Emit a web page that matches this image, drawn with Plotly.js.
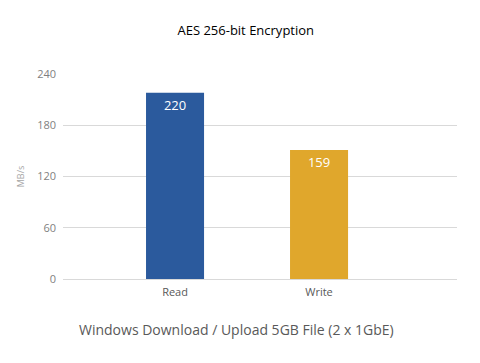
<!DOCTYPE html>
<html>
<head>
<meta charset="utf-8">
<script src="https://cdn.plot.ly/plotly-3.0.1.min.js"></script>
<style>html,body{margin:0;padding:0;background:#fff;}#chart{width:480px;height:363px;}</style>
</head>
<body>
<div id="chart"></div>
<script>
const categories = ["Read", "Write"];
const values = [218, 151];
const dataLabels = ["220", "159"];
const barColors = ["#2B5A9D", "#E0A72C"];
const yTicks = [0, 60, 120, 180, 240];
const xTitle = "Windows Download / Upload 5GB File (2 x 1GbE)";

const trace = {
  type: "bar",
  x: categories,
  y: values,
  text: dataLabels,
  textposition: "inside",
  insidetextanchor: "end",
  textfont: {family: "Open Sans, Liberation Sans, sans-serif", size: 13, color: "#ffffff"},
  marker: {color: barColors},
  width: 0.403,
  hoverinfo: "none",
  cliponaxis: false
};

const layout = {
  width: 480, height: 363,
  margin: {l: 63, r: 23, t: 73.5, b: 84},
  paper_bgcolor: "#ffffff", plot_bgcolor: "#ffffff",
  showlegend: false,
  font: {family: "Open Sans, Liberation Sans, sans-serif", color: "#595959"},
  title: {text: "AES 256-bit Encryption", x: 0.512, xanchor: "center", y: 0.915, yanchor: "middle",
          font: {size: 13, color: "#000000"}},
  xaxis: {type: "category", range: [-0.778, 1.958], showgrid: false, zeroline: false,
          showline: false, ticks: "", ticklabelstandoff: 5, tickfont: {size: 11, color: "#595959"}},
  yaxis: {range: [0, 240], tickvals: yTicks, showgrid: true, gridcolor: "#d9d9d9", gridwidth: 1,
          zeroline: true, zerolinecolor: "#d9d9d9", zerolinewidth: 1, showline: false, ticks: "",
          ticklabelstandoff: 6,
          tickfont: {size: 11, color: "#7f7f7f"},
          title: {text: "MB/s", standoff: 10, font: {size: 9, color: "#a6a6a6"}}},
  annotations: [{
    text: xTitle, xref: "paper", yref: "paper",
    x: (236 - 63) / 394, y: -(330 - 279) / 205.5,
    xanchor: "center", yanchor: "middle", showarrow: false,
    font: {size: 14, color: "#595959"}
  }]
};

Plotly.newPlot("chart", [trace], layout, {staticPlot: true, displayModeBar: false});
</script>
</body>
</html>
